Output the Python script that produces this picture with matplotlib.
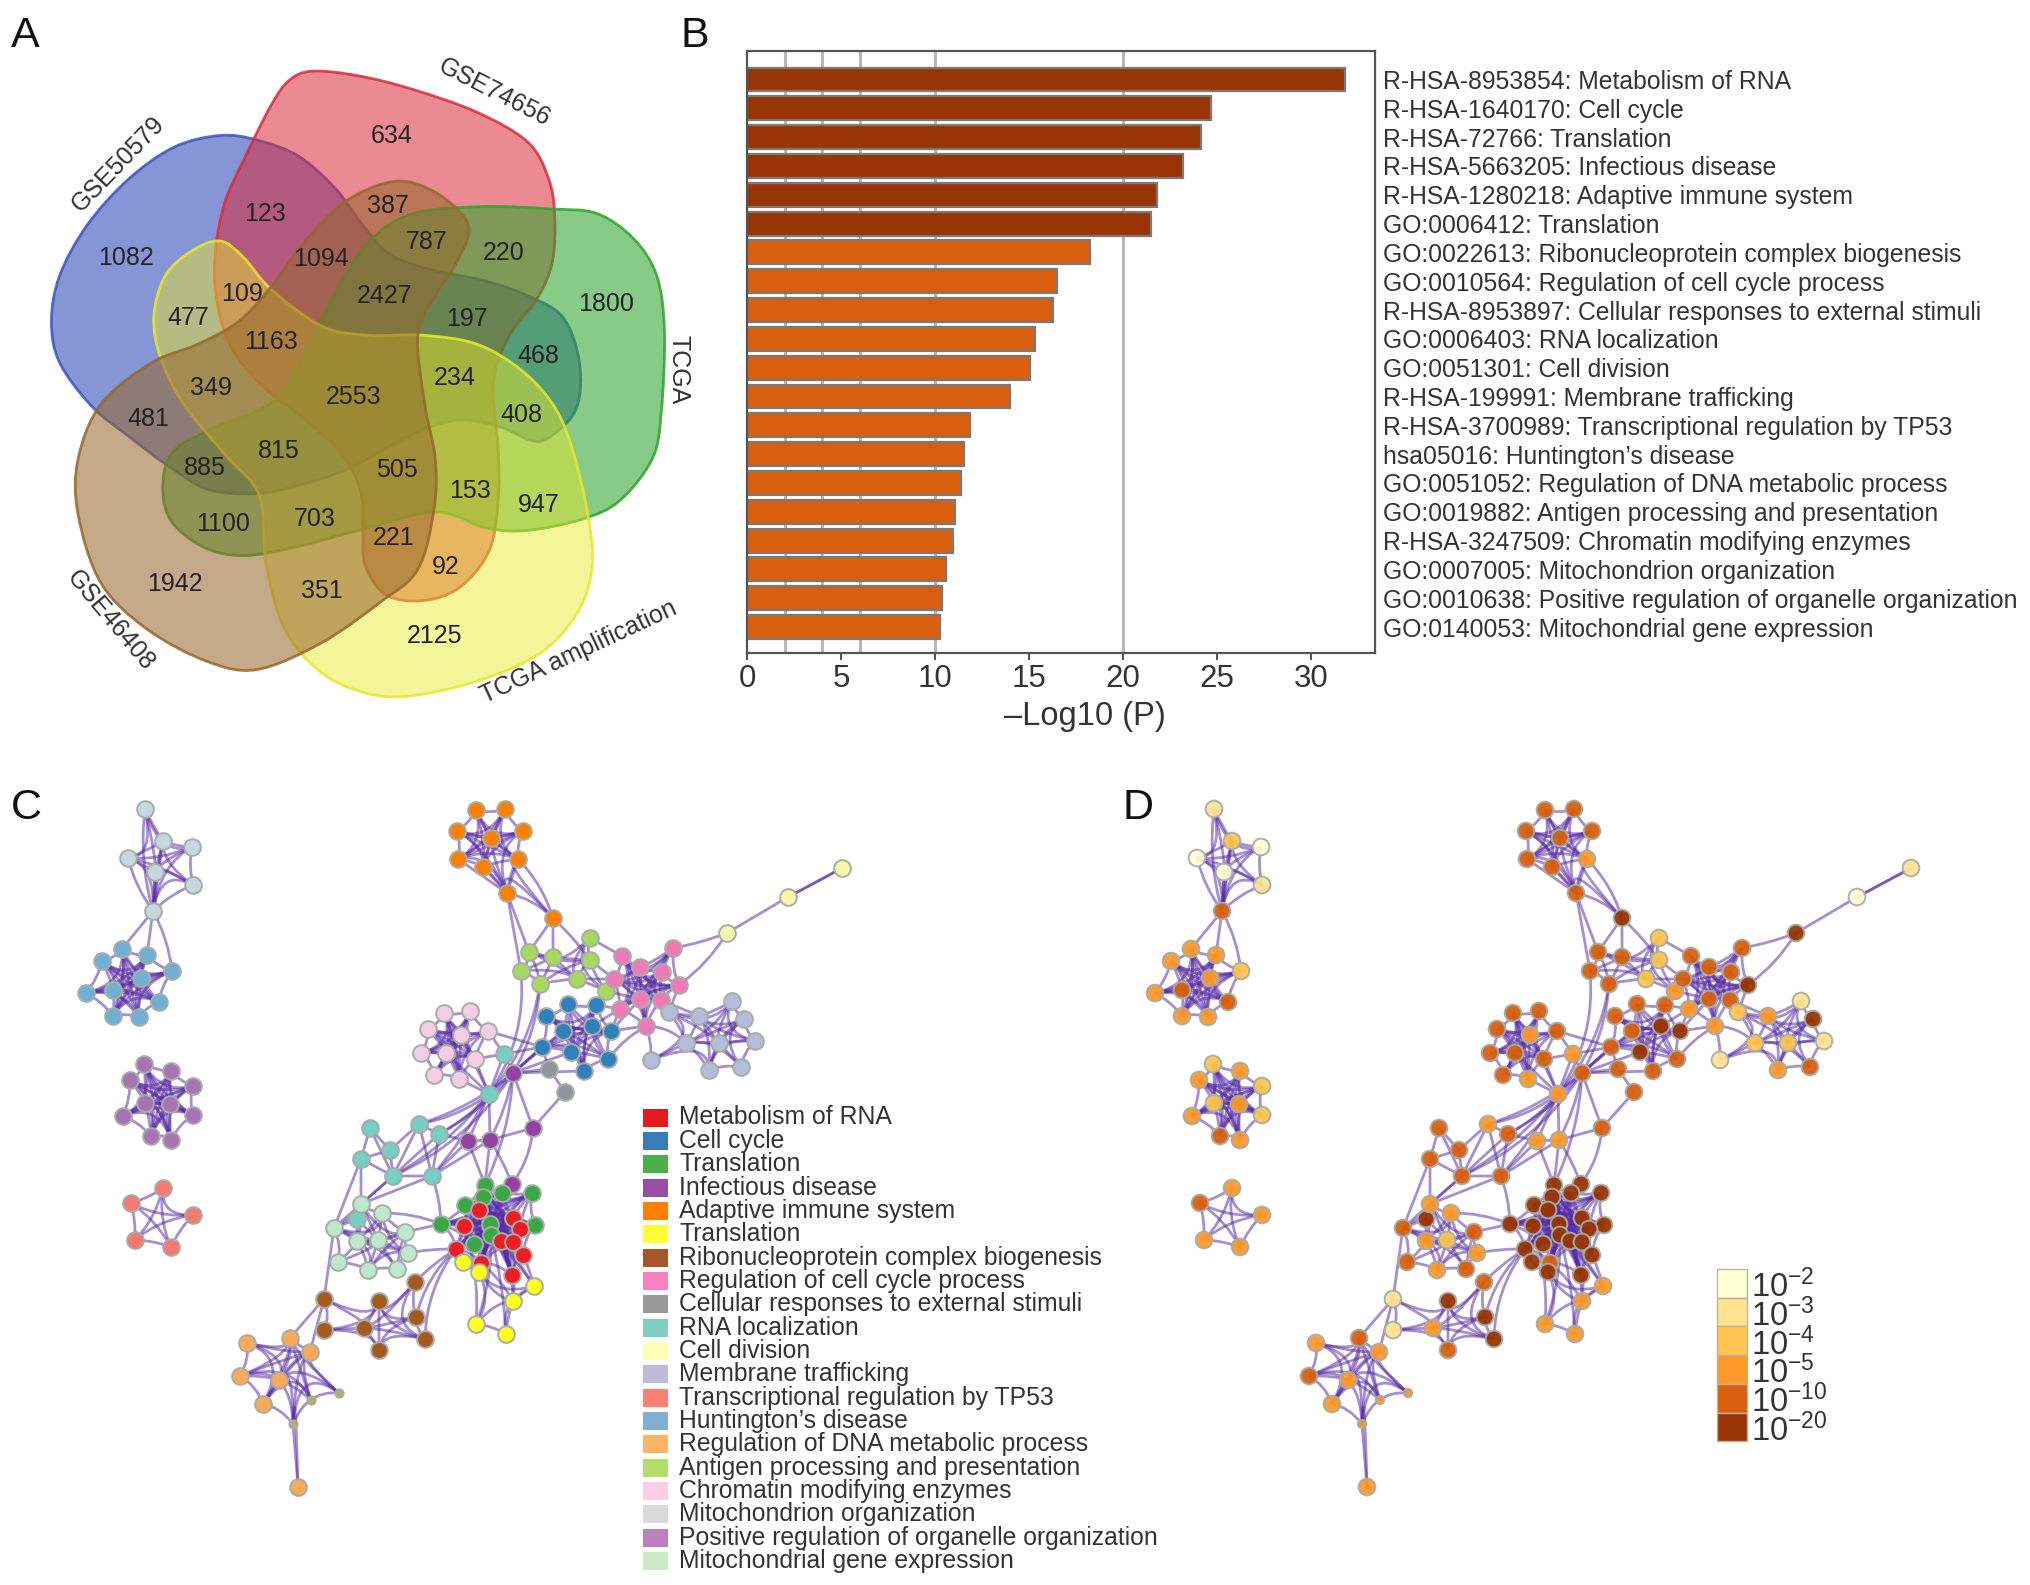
import matplotlib
matplotlib.use('Agg')
import matplotlib.pyplot as plt
import numpy as np
from matplotlib.collections import PathCollection
from matplotlib.patches import PathPatch, Rectangle
from matplotlib.path import Path

plt.rcParams['font.family'] = ['Liberation Sans', 'DejaVu Sans']
plt.rcParams['mathtext.default'] = 'regular'

TXT = '#333333'

# ----- panel A, counts and set outlines
venn_counts = ['634', '123', '387', '1082', '787', '220', '1094', '109', '477', '2427', '197',
               '1800', '1163', '468', '234', '349', '2553', '408', '481', '815', '885', '505',
               '153', '703', '947', '1100', '221', '92', '1942', '351', '2125']
venn_count_xy = [(853, 296), (578, 466), (845, 448), (275, 561), (930, 528), (1097, 551),
                 (698, 563), (527, 640), (410, 693), (838, 645), (1017, 695), (1320, 663),
                 (590, 745), (1172, 775), (990, 823), (460, 845), (770, 865), (1135, 903),
                 (323, 913), (608, 983), (447, 1019), (865, 1023), (1023, 1070), (686, 1130),
                 (1174, 1099), (486, 1141), (858, 1171), (970, 1235), (382, 1271), (700, 1288),
                 (946, 1385)]

blue_set = [(480, 295), (560, 305), (650, 340), (730, 410), (790, 490), (850, 555), (950, 590),
            (1050, 610), (1140, 640), (1225, 690), (1262, 790), (1255, 890), (1200, 950),
            (1160, 960), (1090, 930), (1000, 915), (900, 945), (760, 1020), (640, 1060),
            (550, 1075), (450, 1065), (360, 1010), (280, 950), (200, 885), (130, 790),
            (112, 700), (130, 600), (190, 490), (280, 390), (380, 320)]
red_set = [(680, 155), (780, 165), (900, 195), (1040, 245), (1150, 310), (1195, 390), (1208, 470),
           (1203, 570), (1170, 650), (1110, 730), (1075, 830), (1085, 980), (1085, 1090),
           (1065, 1200), (1000, 1280), (920, 1308), (840, 1295), (795, 1230), (790, 1150),
           (785, 1070), (745, 990), (660, 910), (570, 840), (500, 750), (470, 640), (470, 540),
           (490, 440), (530, 350), (590, 230), (630, 175)]
green_set = [(1050, 450), (1200, 455), (1300, 465), (1380, 520), (1430, 600), (1447, 720),
             (1440, 900), (1420, 1000), (1350, 1090), (1270, 1130), (1150, 1155), (1060, 1150),
             (950, 1115), (800, 1150), (650, 1190), (530, 1210), (440, 1190), (370, 1130),
             (355, 1050), (380, 980), (470, 930), (560, 895), (620, 850), (680, 740), (740, 620),
             (810, 520), (900, 465)]
yellow_set = [(480, 525), (530, 560), (590, 630), (700, 710), (800, 730), (920, 730), (1040, 750),
              (1140, 810), (1210, 890), (1250, 990), (1280, 1120), (1290, 1230), (1260, 1330),
              (1180, 1420), (1050, 1480), (900, 1515), (800, 1510), (700, 1465), (620, 1370),
              (580, 1230), (565, 1080), (490, 990), (400, 880), (350, 780), (335, 690),
              (360, 600), (420, 545)]
brown_set = [(860, 395), (950, 420), (1020, 490), (995, 570), (950, 640), (910, 730), (925, 880),
             (948, 1000), (945, 1110), (910, 1240), (830, 1310), (700, 1400), (560, 1458),
             (450, 1440), (320, 1370), (220, 1270), (170, 1120), (170, 1000), (220, 880),
             (330, 790), (430, 750), (520, 700), (590, 625), (660, 530), (750, 440)]

set_names = ['GSE50579', 'GSE74656', 'TCGA', 'TCGA amplification', 'GSE46408']
set_label_xy = [(258, 358), (1076, 202), (1478, 805), (1260, 1420), (240, 1352)]
set_label_rot = [46, -27, -90, 25, -50]
set_outlines = [blue_set, red_set, green_set, yellow_set, brown_set]
set_colors = ['#3b55bd', '#dc2b3b', '#2da52d', '#e8e82a', '#96682c']
set_alpha = [0.62, 0.55, 0.57, 0.48, 0.56]
VENN_SCALE = 720 / 1568

# ----- panel B
terms = ['R-HSA-8953854: Metabolism of RNA', 'R-HSA-1640170: Cell cycle', 'R-HSA-72766: Translation',
         'R-HSA-5663205: Infectious disease', 'R-HSA-1280218: Adaptive immune system',
         'GO:0006412: Translation', 'GO:0022613: Ribonucleoprotein complex biogenesis',
         'GO:0010564: Regulation of cell cycle process',
         'R-HSA-8953897: Cellular responses to external stimuli', 'GO:0006403: RNA localization',
         'GO:0051301: Cell division', 'R-HSA-199991: Membrane trafficking',
         'R-HSA-3700989: Transcriptional regulation by TP53', 'hsa05016: Huntington\u2019s disease',
         'GO:0051052: Regulation of DNA metabolic process',
         'GO:0019882: Antigen processing and presentation', 'R-HSA-3247509: Chromatin modifying enzymes',
         'GO:0007005: Mitochondrion organization', 'GO:0010638: Positive regulation of organelle organization',
         'GO:0140053: Mitochondrial gene expression']
log_p = [31.8, 24.67, 24.12, 23.19, 21.81, 21.51, 18.23, 16.48, 16.25, 15.32,
         15.05, 14.0, 11.84, 11.54, 11.4, 11.08, 10.98, 10.57, 10.39, 10.27]
grid_at = [2, 4, 6, 10, 20]

# ----- panel C/D legend
legend_names = ['Metabolism of RNA', 'Cell cycle', 'Translation', 'Infectious disease',
                'Adaptive immune system', 'Translation', 'Ribonucleoprotein complex biogenesis',
                'Regulation of cell cycle process', 'Cellular responses to external stimuli',
                'RNA localization', 'Cell division', 'Membrane trafficking',
                'Transcriptional regulation by TP53', 'Huntington\u2019s disease',
                'Regulation of DNA metabolic process', 'Antigen processing and presentation',
                'Chromatin modifying enzymes', 'Mitochondrion organization',
                'Positive regulation of organelle organization', 'Mitochondrial gene expression']
legend_colors = ['#e41a1c', '#377eb8', '#4daf4a', '#984ea3', '#ff7f00', '#ffff33', '#a65628',
                 '#f781bf', '#999999', '#80cdc1', '#ffffb3', '#bebada', '#fb8072', '#80b1d3',
                 '#fdb462', '#b3de69', '#fccde5', '#d9d9d9', '#bc80bd', '#ccebc5']

# colour key of panel D
p_levels = ['$10^{-2}$', '$10^{-3}$', '$10^{-4}$', '$10^{-5}$', '$10^{-10}$', '$10^{-20}$']
p_colors = ['#ffffd4', '#fee391', '#fec44f', '#fe9929', '#d95f0e', '#993404']

# ----- network nodes (position in panel C, level is an index in p_colors for panel D)
mito_org_xy = [(145, 809), (163, 841), (192, 847), (128, 858), (155, 872), (193, 885), (153, 911)]
mito_org_lvl = [1, 2, 0, 0, 0, 1, 4]
hunt_xy = [(122, 949), (147, 955), (102, 961), (172, 971), (141, 978), (113, 990), (86, 993),
           (159, 1002), (113, 1016), (139, 1017)]
hunt_lvl = [3, 3, 3, 2, 3, 4, 3, 4, 3, 3]
posreg_xy = [(144, 1064), (171, 1071), (130, 1080), (193, 1086), (145, 1103), (170, 1104),
             (193, 1115), (123, 1116), (151, 1136), (171, 1140)]
posreg_lvl = [2, 3, 3, 2, 2, 3, 2, 3, 4, 3]
tp53_xy = [(163, 1188), (131, 1203), (193, 1215), (135, 1240), (171, 1247)]
tp53_lvl = [3, 4, 3, 3, 3]
adaptive_xy = [(476, 810), (505, 809), (457, 831), (523, 831), (491, 838), (458, 859), (518, 859),
               (483, 867), (507, 893), (553, 918)]
adaptive_lvl = [4, 4, 4, 4, 4, 4, 3, 4, 4, 5]
antigen_xy = [(529, 952), (553, 957), (590, 938), (590, 960), (521, 971), (577, 979), (540, 984),
              (606, 991)]
antigen_lvl = [4, 4, 2, 2, 4, 2, 4, 3]
pink_xy = [(622, 956), (673, 948), (640, 967), (662, 972), (614, 979), (679, 985), (640, 999),
           (661, 1000), (620, 1009), (646, 1026)]
pink_lvl = [4, 4, 4, 4, 4, 5, 4, 4, 3, 3]
division_xy = [(842, 868), (788, 897), (727, 933)]
division_lvl = [1, 0, 5]
membrane_xy = [(732, 1001), (669, 1012), (699, 1016), (744, 1019), (686, 1043), (719, 1043),
               (755, 1041), (651, 1060), (709, 1070), (741, 1067)]
membrane_lvl = [1, 2, 3, 5, 2, 2, 1, 1, 3, 4]
cycle_xy = [(568, 1004), (596, 1005), (546, 1016), (563, 1031), (592, 1026), (611, 1031),
            (542, 1047), (571, 1052), (608, 1059), (584, 1071)]
cycle_lvl = [4, 4, 4, 4, 5, 5, 4, 5, 4, 4]
chromatin_xy = [(444, 1013), (470, 1011), (428, 1029), (461, 1035), (488, 1031), (421, 1053),
                (446, 1053), (475, 1059), (434, 1075), (459, 1079)]
chromatin_lvl = [4, 4, 4, 3, 4, 4, 4, 4, 4, 3]
stimuli_xy = [(549, 1069), (565, 1092)]
stimuli_lvl = [4, 4]
rna_loc_xy = [(504, 1054), (489, 1094), (370, 1128), (419, 1124), (439, 1134), (390, 1150),
              (361, 1159), (393, 1176), (432, 1176), (357, 1219)]
rna_loc_lvl = [3, 3, 4, 3, 4, 4, 4, 4, 4, 5]
infect_xy = [(513, 1073), (533, 1128), (490, 1140), (468, 1141), (512, 1184)]
infect_lvl = [4, 4, 3, 3, 5]
transl_xy = [(485, 1185), (502, 1193), (483, 1197), (532, 1193), (465, 1205), (441, 1224),
             (490, 1224), (535, 1225), (491, 1235), (474, 1244)]
transl_lvl = [5, 5, 5, 5, 5, 5, 5, 5, 5, 5]
rna_xy = [(479, 1210), (513, 1218), (520, 1229), (464, 1226), (501, 1241), (513, 1242),
          (456, 1249), (523, 1255), (481, 1263), (512, 1275)]
rna_lvl = [5, 5, 5, 5, 5, 5, 5, 5, 4, 5]
yellow_xy = [(463, 1262), (479, 1272), (534, 1286), (513, 1301), (476, 1324), (506, 1334)]
yellow_lvl = [5, 5, 3, 3, 3, 3]
mito_gene_xy = [(361, 1204), (382, 1213), (334, 1228), (405, 1232), (357, 1241), (378, 1240),
                (408, 1253), (338, 1262), (368, 1270), (397, 1269)]
mito_gene_lvl = [3, 3, 4, 4, 3, 2, 3, 4, 3, 4]
ribo_xy = [(415, 1282), (324, 1299), (379, 1301), (416, 1317), (324, 1330), (364, 1328),
           (425, 1339), (379, 1350)]
ribo_lvl = [4, 1, 5, 5, 1, 3, 5, 4]
dna_xy = [(290, 1338), (247, 1343), (310, 1352), (240, 1376), (279, 1380), (263, 1404),
          (298, 1487)]
dna_lvl = [4, 3, 3, 4, 3, 3, 3]
dna_small_xy = [(311, 1400), (339, 1393), (293, 1424)]
dna_small_lvl = [3, 3, 3]

clusters = {
    'mito_org': (mito_org_xy, mito_org_lvl, '#c6d7df'),
    'hunt': (hunt_xy, hunt_lvl, '#6fb0d4'),
    'posreg': (posreg_xy, posreg_lvl, '#a873b5'),
    'tp53': (tp53_xy, tp53_lvl, '#f5796f'),
    'adaptive': (adaptive_xy, adaptive_lvl, '#ff7f00'),
    'antigen': (antigen_xy, antigen_lvl, '#a8d860'),
    'pink': (pink_xy, pink_lvl, '#f07ab8'),
    'division': (division_xy, division_lvl, '#f6f7a8'),
    'membrane': (membrane_xy, membrane_lvl, '#b4bcdc'),
    'cycle': (cycle_xy, cycle_lvl, '#2f80bd'),
    'chromatin': (chromatin_xy, chromatin_lvl, '#f5cde6'),
    'stimuli': (stimuli_xy, stimuli_lvl, '#8f969c'),
    'rna_loc': (rna_loc_xy, rna_loc_lvl, '#76cfc4'),
    'infect': (infect_xy, infect_lvl, '#9440a5'),
    'transl': (transl_xy, transl_lvl, '#3aa845'),
    'rna': (rna_xy, rna_lvl, '#ee1c25'),
    'yellow': (yellow_xy, yellow_lvl, '#ffff20'),
    'mito_gene': (mito_gene_xy, mito_gene_lvl, '#bde8cd'),
    'ribo': (ribo_xy, ribo_lvl, '#a65a22'),
    'dna': (dna_xy, dna_lvl, '#f9a95a'),
    'dna_small': (dna_small_xy, dna_small_lvl, '#b5ad60'),
}

# groups of clusters tied together, with the point their edges bundle to and the reach
edge_groups = [
    (['mito_org'], (158, 862), 85),
    (['hunt'], (129, 986), 85),
    (['posreg'], (160, 1098), 85),
    (['tp53'], (157, 1219), 75),
    (['adaptive'], (488, 846), 80),
    (['antigen'], (562, 966), 62),
    (['pink'], (640, 991), 68),
    (['membrane'], (713, 1033), 65),
    (['cycle'], (580, 1037), 68),
    (['chromatin'], (460, 1045), 68),
    (['transl', 'rna'], (493, 1213), 58),
    (['mito_gene'], (385, 1245), 55),
    (['ribo'], (379, 1327), 72),
    (['dna', 'dna_small'], (295, 1355), 75),
    (['yellow'], (495, 1300), 62),
]
SHORT_EDGE = 40

# edges between clusters (cluster, node, cluster, node, bend)
links = [
    ('mito_org', 6, 'hunt', 0, 0), ('mito_org', 6, 'hunt', 1, 0), ('mito_org', 6, 'hunt', 3, 0.1),
    ('mito_org', 6, 'mito_org', 0, 0.1), ('mito_org', 6, 'mito_org', 3, 0.1), ('mito_org', 6, 'mito_org', 5, 0.1),
    ('mito_org', 6, 'mito_org', 1, 0), ('mito_org', 6, 'mito_org', 4, 0),
    ('adaptive', 8, 'adaptive', 9, 0.15), ('adaptive', 6, 'adaptive', 9, 0.12), ('adaptive', 8, 'adaptive', 6, 0),
    ('adaptive', 8, 'adaptive', 5, 0), ('adaptive', 8, 'adaptive', 7, 0),
    ('adaptive', 9, 'antigen', 0, 0), ('adaptive', 9, 'antigen', 1, 0), ('adaptive', 9, 'antigen', 3, 0.05),
    ('adaptive', 8, 'antigen', 0, 0), ('adaptive', 8, 'antigen', 4, 0),
    ('antigen', 2, 'pink', 0, 0), ('antigen', 7, 'pink', 4, 0), ('antigen', 7, 'pink', 2, 0),
    ('antigen', 7, 'pink', 6, 0), ('antigen', 3, 'pink', 4, 0), ('antigen', 5, 'pink', 4, 0),
    ('division', 0, 'division', 1, 0), ('division', 0, 'division', 1, 0.01), ('division', 1, 'division', 2, 0),
    ('division', 2, 'pink', 5, 0.1), ('division', 2, 'pink', 1, 0.05), ('pink', 5, 'membrane', 1, 0),
    ('pink', 7, 'membrane', 1, 0), ('pink', 7, 'membrane', 2, 0), ('pink', 9, 'membrane', 7, 0.1),
    ('pink', 8, 'cycle', 5, 0), ('pink', 8, 'cycle', 4, 0), ('pink', 6, 'cycle', 5, 0), ('pink', 9, 'cycle', 5, 0),
    ('pink', 9, 'membrane', 4, 0.2), ('pink', 8, 'cycle', 1, 0), ('cycle', 8, 'pink', 9, 0.1),
    ('chromatin', 4, 'rna_loc', 0, 0), ('chromatin', 7, 'rna_loc', 1, 0), ('chromatin', 9, 'rna_loc', 1, 0),
    ('chromatin', 3, 'rna_loc', 1, 0), ('chromatin', 6, 'rna_loc', 1, 0), ('chromatin', 4, 'cycle', 6, 0),
    ('rna_loc', 0, 'chromatin', 7, 0), ('rna_loc', 0, 'cycle', 6, 0), ('rna_loc', 0, 'infect', 0, 0),
    ('rna_loc', 0, 'rna_loc', 1, 0), ('antigen', 6, 'infect', 0, 0.12), ('antigen', 4, 'rna_loc', 1, 0.18),
    ('antigen', 6, 'rna_loc', 1, 0.15), ('infect', 0, 'stimuli', 0, 0), ('infect', 0, 'cycle', 9, 0),
    ('infect', 0, 'cycle', 7, 0), ('infect', 0, 'cycle', 6, 0), ('infect', 0, 'cycle', 3, 0),
    ('rna_loc', 1, 'cycle', 6, 0), ('stimuli', 0, 'stimuli', 1, 0), ('stimuli', 0, 'cycle', 6, 0),
    ('stimuli', 1, 'infect', 1, 0), ('infect', 0, 'infect', 1, 0), ('infect', 0, 'infect', 2, 0.08),
    ('rna_loc', 1, 'rna_loc', 3, 0.12), ('rna_loc', 1, 'rna_loc', 4, 0.1), ('rna_loc', 1, 'infect', 2, 0),
    ('rna_loc', 1, 'infect', 3, 0), ('infect', 0, 'rna_loc', 3, 0.1), ('infect', 0, 'rna_loc', 4, 0.1),
    ('infect', 0, 'rna_loc', 7, 0.15), ('rna_loc', 1, 'rna_loc', 7, 0.1), ('rna_loc', 1, 'rna_loc', 8, 0.05),
    ('infect', 2, 'infect', 1, 0), ('infect', 3, 'infect', 2, 0), ('infect', 1, 'infect', 4, 0.14),
    ('infect', 2, 'infect', 4, 0.05), ('infect', 2, 'transl', 0, 0), ('infect', 0, 'transl', 0, 0.1),
    ('infect', 3, 'transl', 0, 0), ('infect', 3, 'rna_loc', 4, 0), ('infect', 3, 'rna_loc', 8, 0),
    ('rna_loc', 3, 'rna_loc', 4, 0), ('rna_loc', 3, 'rna_loc', 8, 0), ('rna_loc', 4, 'rna_loc', 8, 0),
    ('rna_loc', 3, 'rna_loc', 5, 0), ('rna_loc', 3, 'rna_loc', 7, 0), ('rna_loc', 2, 'rna_loc', 5, 0),
    ('rna_loc', 2, 'rna_loc', 6, 0), ('rna_loc', 2, 'rna_loc', 7, 0), ('rna_loc', 5, 'rna_loc', 6, 0),
    ('rna_loc', 5, 'rna_loc', 7, 0), ('rna_loc', 6, 'rna_loc', 7, 0), ('rna_loc', 4, 'rna_loc', 7, 0),
    ('rna_loc', 8, 'rna_loc', 7, 0), ('infect', 2, 'rna_loc', 8, 0), ('rna_loc', 8, 'transl', 5, 0.08),
    ('rna_loc', 7, 'mito_gene', 0, 0), ('rna_loc', 6, 'mito_gene', 0, 0), ('rna_loc', 7, 'mito_gene', 2, 0),
    ('rna_loc', 8, 'mito_gene', 0, 0), ('rna_loc', 6, 'mito_gene', 2, 0), ('rna_loc', 9, 'mito_gene', 0, 0),
    ('rna_loc', 9, 'mito_gene', 2, 0), ('rna_loc', 9, 'mito_gene', 4, 0), ('rna_loc', 9, 'mito_gene', 5, 0),
    ('mito_gene', 2, 'ribo', 1, 0), ('mito_gene', 3, 'transl', 5, 0), ('mito_gene', 6, 'rna', 6, 0.05),
    ('mito_gene', 1, 'transl', 5, 0.1), ('ribo', 0, 'rna', 6, 0.06), ('ribo', 3, 'rna', 6, 0.15),
    ('ribo', 6, 'rna', 6, 0.16), ('ribo', 1, 'dna', 0, 0), ('ribo', 1, 'dna', 2, 0), ('dna_small', 2, 'dna', 6, 0),
    ('transl', 5, 'rna', 3, 0), ('rna', 6, 'yellow', 0, 0), ('rna', 6, 'rna', 3, 0),
    ('rna', 3, 'yellow', 4, 0.1), ('transl', 8, 'yellow', 4, 0.1), ('transl', 8, 'yellow', 5, 0.05),
    ('transl', 8, 'yellow', 2, 0.05), ('rna', 4, 'yellow', 2, 0.05), ('rna', 5, 'yellow', 3, 0.05),
    ('rna', 7, 'yellow', 2, 0.05), ('rna', 4, 'yellow', 3, 0.1), ('rna', 8, 'yellow', 3, 0.1),
    ('transl', 8, 'rna', 7, 0.05), ('transl', 8, 'rna', 9, 0.05), ('transl', 8, 'rna', 8, 0.05),
    ('rna', 4, 'rna', 9, 0.05), ('rna', 5, 'rna', 7, 0.05), ('transl', 6, 'yellow', 1, 0.05),
]


def smooth_outline(points):
    # closed spline through the points
    pts = np.array(points, dtype=float) * VENN_SCALE
    n = len(pts)
    verts = [pts[0]]
    codes = [Path.MOVETO]
    for i in range(n):
        p0, p1, p2, p3 = pts[i - 1], pts[i], pts[(i + 1) % n], pts[(i + 2) % n]
        verts += [p1 + (p2 - p0) / 6, p2 - (p3 - p1) / 6, p2]
        codes += [Path.CURVE4] * 3
    return Path(verts, codes)


def edge_path(a, b, ctrl):
    return Path([a, ctrl, b], [Path.MOVETO, Path.CURVE3, Path.CURVE3])


def draw_network(ax, dx, use_levels):
    paths = []
    for names, hub, reach in edge_groups:
        pts = np.concatenate([np.array(clusters[n][0], dtype=float) for n in names])
        hub = np.array(hub, dtype=float)
        for i in range(len(pts)):
            for j in range(i + 1, len(pts)):
                dist = np.hypot(*(pts[i] - pts[j]))
                if dist < reach:
                    mid = (pts[i] + pts[j]) / 2
                    pull = 0.12 if dist < SHORT_EDGE else 0.85
                    paths.append(edge_path(pts[i] + [dx, 0], pts[j] + [dx, 0],
                                           mid + pull * (hub - mid) + [dx, 0]))
    for c1, i1, c2, i2, bend in links:
        a = np.array(clusters[c1][0][i1], dtype=float)
        b = np.array(clusters[c2][0][i2], dtype=float)
        d = b - a
        ctrl = (a + b) / 2 + bend * np.array([d[1], -d[0]])
        paths.append(edge_path(a + [dx, 0], b + [dx, 0], ctrl + [dx, 0]))
    ax.add_collection(PathCollection(paths, facecolors='none', edgecolors='#5528a5',
                                     linewidths=2.0, alpha=0.52, zorder=3))
    for name, (xy, lvl, col) in clusters.items():
        xy = np.array(xy, dtype=float)
        colors = [p_colors[k] for k in lvl] if use_levels else col
        size = 36 if name == 'dna_small' else 145
        ax.scatter(xy[:, 0] + dx, xy[:, 1], s=size, c=colors, edgecolors='#a6aea6',
                   linewidths=1.4, alpha=0.95 if use_levels else 1, zorder=4)


fig = plt.figure(figsize=(20.31, 15.85), dpi=100)
bg = fig.add_axes([0, 0, 1, 1])
bg.set_xlim(0, 2031)
bg.set_ylim(1585, 0)
bg.axis('off')

# panel A
for outline, col, alpha in zip(set_outlines, set_colors, set_alpha):
    path = smooth_outline(outline)
    bg.add_patch(PathPatch(path, facecolor=col, edgecolor='none', alpha=alpha, zorder=1))
    bg.add_patch(PathPatch(path, facecolor='none', edgecolor=col, lw=2, alpha=0.85, zorder=1))
for label, (x, y) in zip(venn_counts, venn_count_xy):
    bg.text(x * VENN_SCALE, y * VENN_SCALE, label, ha='center', va='center', fontsize=18,
            color='#222222', zorder=2)
for label, (x, y), rot in zip(set_names, set_label_xy, set_label_rot):
    bg.text(x * VENN_SCALE, y * VENN_SCALE, label, ha='center', va='center', rotation=rot,
            rotation_mode='anchor', fontsize=18, color=TXT, zorder=2)

# panel B
left, right, top, bottom = 747, 1375, 50.7, 653
ax = fig.add_axes([left / 2031, 1 - bottom / 1585, (right - left) / 2031, (bottom - top) / 1585])
ypos = np.arange(len(log_p))
bar_colors = [p_colors[5] if v > 20 else p_colors[4] for v in log_p]
for g in grid_at:
    ax.axvline(g, color='#b8b8b8', lw=2.2, zorder=1)
ax.barh(ypos, log_p, height=0.83, color=bar_colors, edgecolor='#7a7a7a', linewidth=1.6, zorder=2)
ax.set_xlim(0, 33.4)
ax.set_ylim(19.9, -1.0)
ax.yaxis.tick_right()
ax.set_yticks(ypos)
ax.set_yticklabels(terms, fontsize=17.8, color=TXT)
ax.tick_params(axis='y', length=0, pad=6)
ax.set_xticks([0, 5, 10, 15, 20, 25, 30])
ax.tick_params(axis='x', labelsize=22.5, labelcolor=TXT, color='#555555', length=5, width=1.5, pad=3)
ax.set_xlabel('\u2013Log10 (P)', fontsize=23.5, color=TXT, labelpad=5, x=0.538)
for s in ax.spines.values():
    s.set_color('#555555')
    s.set_linewidth(1.6)

# panels C and D
draw_network(bg, 0, False)
draw_network(bg, 1069, True)

for i, (name, col) in enumerate(zip(legend_names, legend_colors)):
    y = 1117.5 + i * 23.35
    bg.add_patch(Rectangle((643, y - 9), 25, 18, facecolor=col, edgecolor='none', zorder=2))
    bg.text(679, y, name, ha='left', va='center', fontsize=17.8, color=TXT, zorder=2)

for i, (label, col) in enumerate(zip(p_levels, p_colors)):
    y = 1269 + i * 28.7
    bg.add_patch(Rectangle((1717, y), 30, 28.7, facecolor=col, edgecolor='#bdb39a', lw=1, zorder=2))
    bg.text(1751, y + 18, label, ha='left', va='center', fontsize=23.5, color=TXT, zorder=2)

for label, x, y in [('A', 11, 36), ('B', 680, 36), ('C', 11, 808), ('D', 1123, 808)]:
    bg.text(x, y, label, ha='left', va='center', fontsize=31, color='#111111', zorder=5)

fig.savefig('out.png', dpi=100)
